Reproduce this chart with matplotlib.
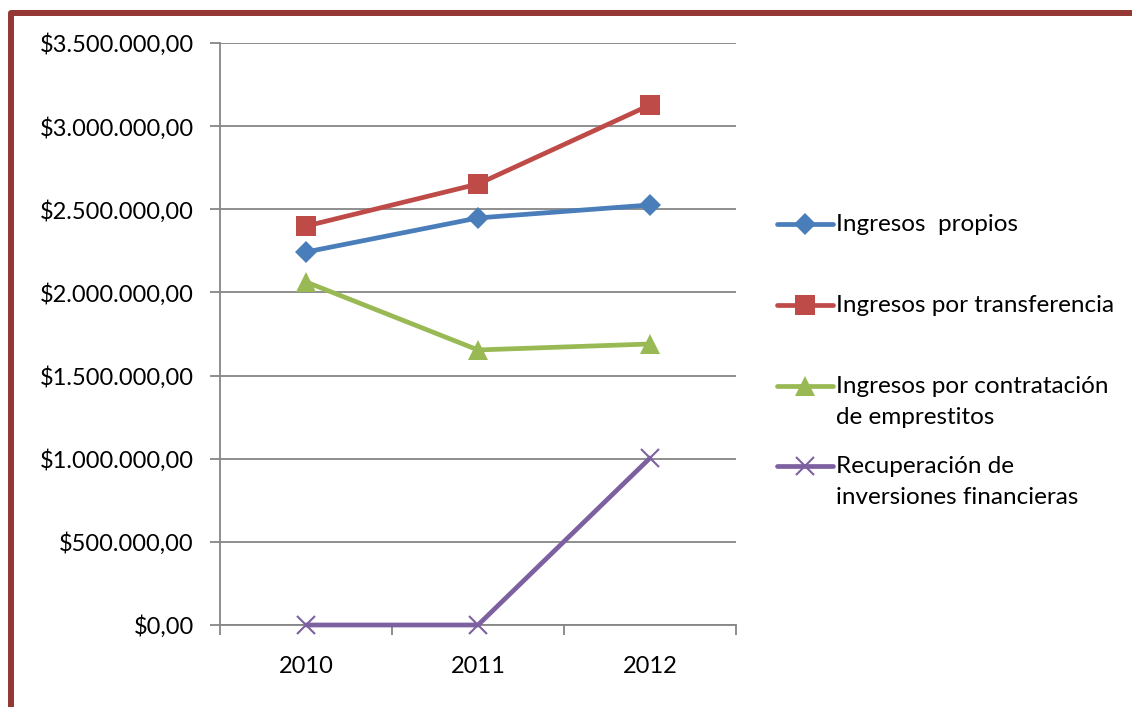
import matplotlib
matplotlib.use("Agg")
import matplotlib.pyplot as plt
from matplotlib.lines import Line2D
from matplotlib.patches import Rectangle

plt.rcParams['font.family'] = ['Lato', 'DejaVu Sans']

years = [2010, 2011, 2012]
ingresos_propios = [2243000, 2448000, 2526000]
ingresos_transferencia = [2399000, 2652000, 3127000]
ingresos_emprestitos = [2063000, 1654000, 1690000]
recuperacion_inversiones = [0, 0, 1004000]

labels = ["Ingresos  propios", "Ingresos por transferencia",
          "Ingresos por contratación\nde emprestitos",
          "Recuperación de\ninversiones financieras"]
colors = ["#4A7EBB", "#BE4B48", "#98B954", "#7D60A0"]
markers = ["D", "s", "^", "x"]
msizes = [11, 14, 15, 13]
series = [ingresos_propios, ingresos_transferencia, ingresos_emprestitos, recuperacion_inversiones]

yticks = list(range(0, 3500001, 500000))
FS = 17


def money(v):
    s = f"{v:,.2f}".replace(",", "_").replace(".", ",").replace("_", ".")
    return "$" + s


fig = plt.figure(figsize=(11.32, 7.07), dpi=100)
ax = fig.add_axes([220 / 1132, 1 - 625 / 707, 516 / 1132, 582 / 707])

x = list(range(len(years)))
for vals, c, m, ms in zip(series, colors, markers, msizes):
    ax.plot(x, vals, color=c, lw=3.4, marker=m, markersize=ms,
            markeredgewidth=1.5 if m == "x" else 0, markeredgecolor=c,
            solid_capstyle="round", clip_on=False, zorder=3)

ax.set_xlim(-0.5, len(years) - 0.5)
ax.set_ylim(0, 3500000)
ax.set_yticks(yticks)
ax.set_yticklabels([money(v) for v in yticks])
ax.set_xticks(x)
ax.set_xticklabels([str(y) for y in years])
ax.set_xticks([i - 0.5 for i in range(len(years) + 1)], minor=True)
ax.tick_params(axis="x", which="major", length=0, pad=22, labelsize=FS)
ax.tick_params(axis="x", which="minor", length=7, width=1.3, color="#868686", direction="out")
ax.tick_params(axis="y", length=7, width=1.3, color="#868686", direction="out", pad=12, labelsize=FS)

ax.grid(axis="y", color="#868686", lw=1.3)
ax.set_axisbelow(True)
for s in ["top", "right"]:
    ax.spines[s].set_visible(False)
for s in ["left", "bottom"]:
    ax.spines[s].set_color("#868686")
    ax.spines[s].set_linewidth(1.3)

# legend drawn by hand so the handle sits on the first text line
ys = [224, 305, 386, 466]
for lab, c, m, ms, yy in zip(labels, colors, markers, msizes, ys):
    fy = 1 - yy / 707
    fig.add_artist(Line2D([777 / 1132, 833 / 1132], [fy, fy], transform=fig.transFigure,
                          color=c, lw=3.4, solid_capstyle="round"))
    fig.add_artist(Line2D([805 / 1132], [fy], transform=fig.transFigure, color=c,
                          marker=m, markersize=ms, markeredgewidth=1.5 if m == "x" else 0,
                          markeredgecolor=c))
    fig.text(836 / 1132, fy + 10 / 707, lab, fontsize=17.5, va="top", ha="left",
             linespacing=1.6)

fig.add_artist(Rectangle((11 / 1132, -0.1), 1.2, 1.1 - 13 / 707, transform=fig.transFigure,
                         fill=False, edgecolor="#953735", lw=4.3, joinstyle="round"))

fig.savefig("out.png", dpi=100)
